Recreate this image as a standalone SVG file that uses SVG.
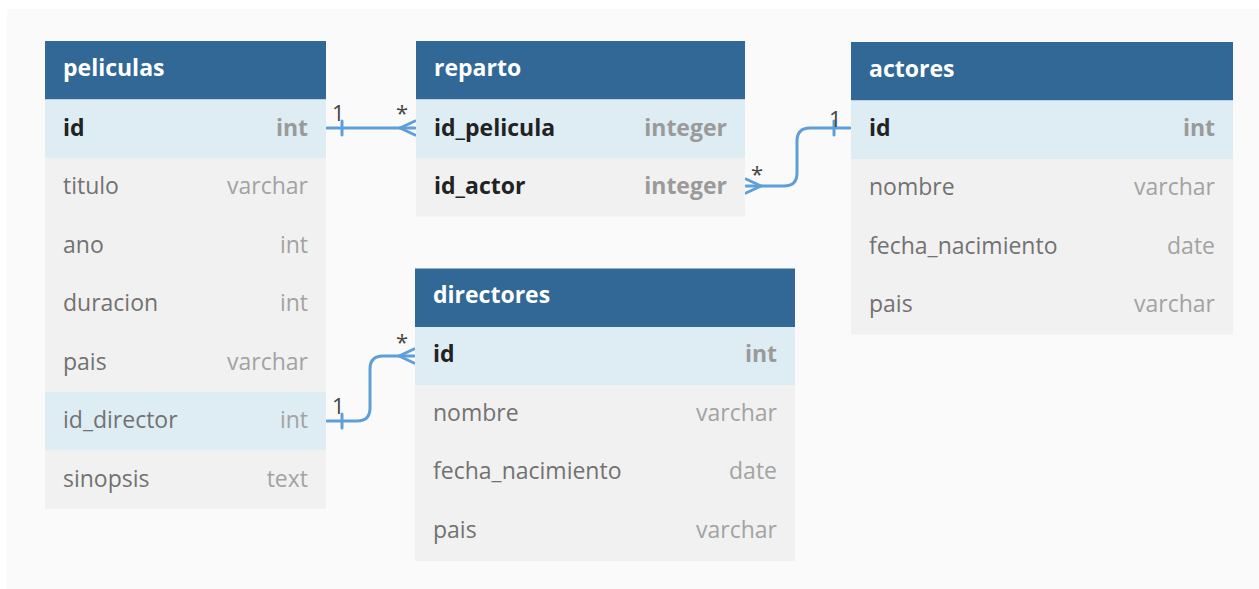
<svg xmlns="http://www.w3.org/2000/svg" width="1259" height="589" viewBox="0 0 1259 589">
  <style>
    .hdr { fill: #316896; }
    .key { fill: #deecf4; }
    .row { fill: #f1f1f1; }
    .title { font-family: "Open Sans", "Noto Sans", sans-serif; font-size: 23px; font-weight: 700; fill: #ffffff; }
    .kname { font-family: "Open Sans", "Noto Sans", sans-serif; font-size: 23px; font-weight: 700; fill: #222222; }
    .name { font-family: "Open Sans", "Noto Sans", sans-serif; font-size: 23px; fill: #727272; }
    .ktype { font-family: "Open Sans", "Noto Sans", sans-serif; font-size: 23px; font-weight: 700; fill: #9a9a9a; text-anchor: end; }
    .type { font-family: "Open Sans", "Noto Sans", sans-serif; font-size: 23px; fill: #a3a3a3; text-anchor: end; }
    .link { fill: none; stroke: #5f9fd8; stroke-width: 3; stroke-linecap: round; stroke-linejoin: round; }
    .card { font-family: "Open Sans", "Noto Sans", sans-serif; font-size: 22px; fill: #444444; }
  </style>

  <rect x="0" y="0" width="1259" height="589" fill="#ffffff"/>
  <rect x="7" y="9" width="1252" height="580" fill="#fafafa"/>

  <!-- connectors -->
  <g id="connectors">
    <!-- peliculas.id 1 — * reparto.id_pelicula -->
    <path class="link" d="M327 128 H415"/>
    <path class="link" d="M342 121 V135"/>
    <path class="link" d="M400 128 L415 121 M400 128 L415 135"/>
    <text class="card" x="332" y="121">1</text>
    <text class="card" x="396" y="121">*</text>

    <!-- reparto.id_actor * — 1 actores.id -->
    <path class="link" d="M746 186 H784 Q797 186 797 173 V141 Q797 128 810 128 H850"/>
    <path class="link" d="M834 121 V135"/>
    <path class="link" d="M761 186 L746 179 M761 186 L746 193"/>
    <text class="card" x="829" y="127">1</text>
    <text class="card" x="751" y="182">*</text>

    <!-- peliculas.id_director 1 — * directores.id -->
    <path class="link" d="M327 421 H357 Q370 421 370 408 V369 Q370 356 383 356 H414"/>
    <path class="link" d="M342 414 V428"/>
    <path class="link" d="M399 356 L414 349 M399 356 L414 363"/>
    <text class="card" x="332" y="414">1</text>
    <text class="card" x="396" y="350">*</text>
  </g>

  <!-- peliculas -->
  <g id="peliculas">
    <rect class="hdr" x="45" y="41" width="281" height="58.5"/>
    <rect class="key" x="45" y="99.5" width="281" height="58.5"/>
    <rect class="row" x="45" y="158" width="281" height="234"/>
    <rect class="key" x="45" y="392" width="281" height="58.5"/>
    <rect class="row" x="45" y="450.5" width="281" height="58.5"/>
    <text class="title" x="63" y="76">peliculas</text>
    <text class="kname" x="63" y="136">id</text><text class="ktype" x="308" y="136">int</text>
    <text class="name" x="63" y="194">titulo</text><text class="type" x="308" y="194">varchar</text>
    <text class="name" x="63" y="253">ano</text><text class="type" x="308" y="253">int</text>
    <text class="name" x="63" y="311">duracion</text><text class="type" x="308" y="311">int</text>
    <text class="name" x="63" y="370">pais</text><text class="type" x="308" y="370">varchar</text>
    <text class="name" x="63" y="428">id_director</text><text class="type" x="308" y="428">int</text>
    <text class="name" x="63" y="487">sinopsis</text><text class="type" x="308" y="487">text</text>
  </g>

  <!-- reparto -->
  <g id="reparto">
    <rect class="hdr" x="416" y="41" width="329" height="58.5"/>
    <rect class="key" x="416" y="99.5" width="329" height="58.5"/>
    <rect class="row" x="416" y="158" width="329" height="58.5"/>
    <text class="title" x="434" y="76">reparto</text>
    <text class="kname" x="434" y="136">id_pelicula</text><text class="ktype" x="727" y="136">integer</text>
    <text class="kname" x="434" y="194">id_actor</text><text class="ktype" x="727" y="194">integer</text>
  </g>

  <!-- actores -->
  <g id="actores">
    <rect class="hdr" x="851" y="42" width="382" height="58.5"/>
    <rect class="key" x="851" y="100.5" width="382" height="58.5"/>
    <rect class="row" x="851" y="159" width="382" height="175.5"/>
    <text class="title" x="869" y="77">actores</text>
    <text class="kname" x="869" y="136">id</text><text class="ktype" x="1215" y="136">int</text>
    <text class="name" x="869" y="195">nombre</text><text class="type" x="1215" y="195">varchar</text>
    <text class="name" x="869" y="254">fecha_nacimiento</text><text class="type" x="1215" y="254">date</text>
    <text class="name" x="869" y="312">pais</text><text class="type" x="1215" y="312">varchar</text>
  </g>

  <!-- directores -->
  <g id="directores">
    <rect class="hdr" x="415" y="268.5" width="380" height="58.5"/>
    <rect class="key" x="415" y="327" width="380" height="58.5"/>
    <rect class="row" x="415" y="385.5" width="380" height="175.5"/>
    <text class="title" x="433" y="303">directores</text>
    <text class="kname" x="433" y="362">id</text><text class="ktype" x="777" y="362">int</text>
    <text class="name" x="433" y="421">nombre</text><text class="type" x="777" y="421">varchar</text>
    <text class="name" x="433" y="479">fecha_nacimiento</text><text class="type" x="777" y="479">date</text>
    <text class="name" x="433" y="538">pais</text><text class="type" x="777" y="538">varchar</text>
  </g>
</svg>
